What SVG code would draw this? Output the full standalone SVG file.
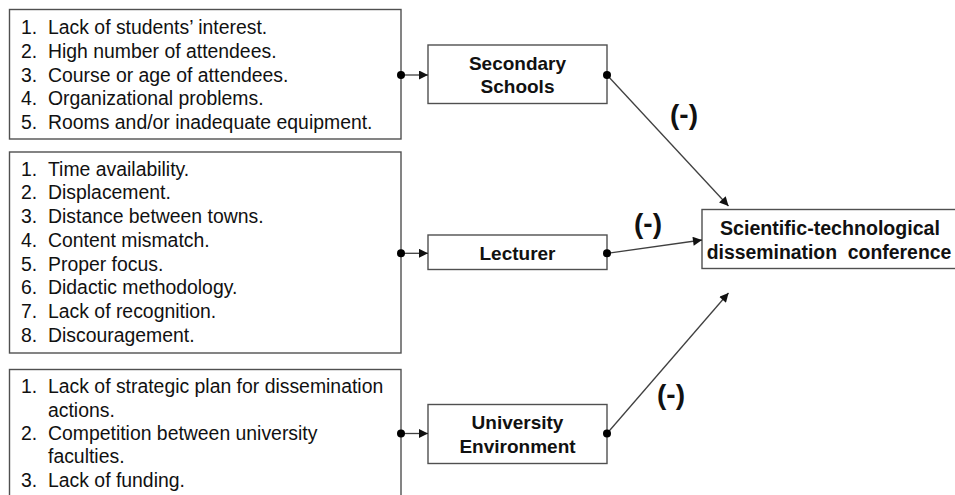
<svg xmlns="http://www.w3.org/2000/svg" width="955" height="495" viewBox="0 0 955 495">
<defs>
<style>
.box{fill:#ffffff;stroke:#505050;stroke-width:1.4}
.lst{font-family:"Liberation Sans",Arial,sans-serif;font-size:19.4px;fill:#111}
.nd{font-family:"Liberation Sans",Arial,sans-serif;font-size:19px;font-weight:bold;fill:#111;text-anchor:middle}
.sign{font-family:"Liberation Sans",Arial,sans-serif;font-size:28px;font-weight:bold;fill:#111;text-anchor:middle}
.ln{stroke:#404040;stroke-width:1.3;fill:none}
.dot{fill:#000}
</style>
<marker id="ah" viewBox="0 0 10 10" refX="10" refY="5" markerWidth="10" markerHeight="9" markerUnits="userSpaceOnUse" orient="auto">
<path d="M0,0 L10,5 L0,10 z" fill="#111"/>
</marker>
</defs>
<rect width="955" height="495" fill="#ffffff"/>

<g id="school-factors">
<rect class="box" x="9.5" y="9.5" width="391.5" height="129.5"/>
<text class="lst"><tspan x="21" y="34.3">1.</tspan><tspan x="48" y="34.3">Lack of students’ interest.</tspan>
<tspan x="21" y="57.9">2.</tspan><tspan x="48" y="57.9">High number of attendees.</tspan>
<tspan x="21" y="81.5">3.</tspan><tspan x="48" y="81.5">Course or age of attendees.</tspan>
<tspan x="21" y="105.1">4.</tspan><tspan x="48" y="105.1">Organizational problems.</tspan>
<tspan x="21" y="128.7">5.</tspan><tspan x="48" y="128.7">Rooms and/or inadequate equipment.</tspan></text>
</g>

<g id="lecturer-factors">
<rect class="box" x="9.5" y="152" width="391.5" height="201"/>
<text class="lst"><tspan x="21" y="175.7">1.</tspan><tspan x="48" y="175.7">Time availability.</tspan>
<tspan x="21" y="199.4">2.</tspan><tspan x="48" y="199.4">Displacement.</tspan>
<tspan x="21" y="223.1">3.</tspan><tspan x="48" y="223.1">Distance between towns.</tspan>
<tspan x="21" y="246.8">4.</tspan><tspan x="48" y="246.8">Content mismatch.</tspan>
<tspan x="21" y="270.5">5.</tspan><tspan x="48" y="270.5">Proper focus.</tspan>
<tspan x="21" y="294.2">6.</tspan><tspan x="48" y="294.2">Didactic methodology.</tspan>
<tspan x="21" y="317.9">7.</tspan><tspan x="48" y="317.9">Lack of recognition.</tspan>
<tspan x="21" y="341.6">8.</tspan><tspan x="48" y="341.6">Discouragement.</tspan></text>
</g>

<g id="university-factors">
<rect class="box" x="9.5" y="369.5" width="391.5" height="140"/>
<text class="lst"><tspan x="21" y="393.3">1.</tspan><tspan x="48" y="393.3">Lack of strategic plan for dissemination</tspan>
<tspan x="48" y="416.7">actions.</tspan>
<tspan x="21" y="440">2.</tspan><tspan x="48" y="440">Competition between university</tspan>
<tspan x="48" y="463.3">faculties.</tspan>
<tspan x="21" y="486.6">3.</tspan><tspan x="48" y="486.6">Lack of funding.</tspan></text>
</g>

<g id="secondary-schools">
<rect class="box" x="428" y="45" width="179" height="58.5"/>
<text class="nd" x="517.5" y="69.5">Secondary</text>
<text class="nd" x="517.5" y="93">Schools</text>
</g>

<g id="lecturer">
<rect class="box" x="428" y="235" width="179" height="34.5"/>
<text class="nd" x="517.5" y="259.5">Lecturer</text>
</g>

<g id="university-environment">
<rect class="box" x="428" y="404.5" width="179" height="59"/>
<text class="nd" x="517.5" y="428.8">University</text>
<text class="nd" x="517.5" y="452.5">Environment</text>
</g>

<g id="conference">
<rect class="box" x="702" y="209.5" width="262" height="59"/>
<text class="nd" x="830" y="234.5" style="font-size:19.6px">Scientific-technological</text>
<text class="nd" x="829" y="259" style="font-size:19.4px" xml:space="preserve">dissemination  conference</text>
</g>

<g id="connectors">
<line class="ln" x1="401" y1="75" x2="428" y2="75" marker-end="url(#ah)"/>
<line class="ln" x1="401" y1="253.3" x2="428" y2="253.3" marker-end="url(#ah)"/>
<line class="ln" x1="401" y1="433.5" x2="428" y2="433.5" marker-end="url(#ah)"/>
<line class="ln" x1="607" y1="75" x2="728.5" y2="206" marker-end="url(#ah)"/>
<line class="ln" x1="607" y1="253.3" x2="702" y2="240" marker-end="url(#ah)"/>
<line class="ln" x1="607" y1="433.5" x2="728.5" y2="293" marker-end="url(#ah)"/>
<circle class="dot" cx="401" cy="75" r="4"/>
<circle class="dot" cx="401" cy="253.3" r="4"/>
<circle class="dot" cx="401" cy="433.5" r="4"/>
<circle class="dot" cx="607" cy="75" r="4"/>
<circle class="dot" cx="607" cy="253.3" r="4"/>
<circle class="dot" cx="607" cy="433.5" r="4"/>
<text class="sign" x="684" y="124">(-)</text>
<text class="sign" x="648" y="233">(-)</text>
<text class="sign" x="671" y="404">(-)</text>
</g>
</svg>
